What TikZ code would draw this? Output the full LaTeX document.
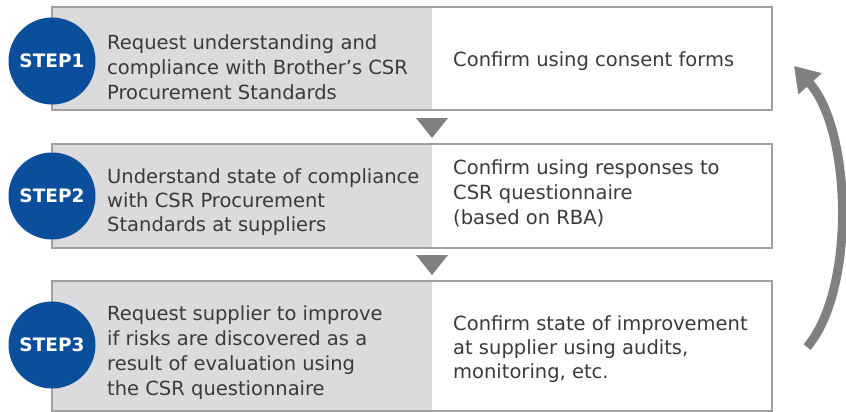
\documentclass[tikz,border=0pt]{standalone}
\usepackage{fontspec}
\setmainfont{DejaVu Sans}
\usetikzlibrary{arrows.meta}
\definecolor{boxgray}{RGB}{219,219,221}
\definecolor{edgegray}{RGB}{160,160,160}
\definecolor{stepblue}{RGB}{11,78,155}
\definecolor{txtgray}{RGB}{58,58,58}
\definecolor{arrgray}{RGB}{128,128,130}
\begin{document}
\begin{tikzpicture}[x=1pt,y=-1pt,
  leftpart/.style={fill=boxgray, draw=none, anchor=north west, inner sep=0pt, outer sep=0pt, minimum width=380pt},
  frame/.style={draw=edgegray, line width=1.4pt, anchor=north west, inner sep=0pt, outer sep=0pt, minimum width=720pt},
  stepcircle/.style={circle, fill=stepblue, text=white, minimum size=87pt, inner sep=0pt,
    font=\bfseries\fontsize{18.5}{22}\selectfont},
  lefttext/.style={anchor=west, align=left, text=txtgray, inner sep=0pt, font=\fontsize{19.5}{25}\selectfont},
  righttext/.style={anchor=west, align=left, text=txtgray, inner sep=0pt, font=\fontsize{19.5}{25}\selectfont},
  downmark/.style={fill=arrgray, draw=none},
  loop/.style={draw=arrgray, line width=9pt, -{Triangle[width=30pt,length=24pt]}}
]
\useasboundingbox (0,0) rectangle (846,412);
% box 1
\node[leftpart, minimum height=103pt] (l1) at (52,7) {};
\node[frame, minimum height=103pt] (f1) at (52,7) {};
% box 2
\node[leftpart, minimum height=104pt] (l2) at (52,144) {};
\node[frame, minimum height=104pt] (f2) at (52,144) {};
% box 3
\node[leftpart, minimum height=130pt] (l3) at (52,281) {};
\node[frame, minimum height=130pt] (f3) at (52,281) {};
% circles
\node[stepcircle] (s1) at (52,61) {STEP1};
\node[stepcircle] (s2) at (52,196) {STEP2};
\node[stepcircle] (s3) at (52,345) {STEP3};
% texts
\node[lefttext] (t1) at (107,67) {Request understanding and\\compliance with Brother’s CSR\\Procurement Standards};
\node[righttext] (u1) at (453,61) {Confirm using consent forms};
\node[lefttext, font=\fontsize{19.5}{24}\selectfont] (t2) at (107,202) {Understand state of compliance\\with CSR Procurement\\Standards at suppliers};
\node[righttext] (u2) at (453,193) {Confirm using responses to\\CSR questionnaire\\(based on RBA)};
\node[lefttext] (t3) at (107,353) {Request supplier to improve\\if risks are discovered as a\\result of evaluation using\\the CSR questionnaire};
\node[righttext, font=\fontsize{19.5}{24}\selectfont] (u3) at (453,349) {Confirm state of improvement\\at supplier using audits,\\monitoring, etc.};
% down marks
\fill[downmark] (416,118) -- (448,118) -- (432,138) -- cycle;
\fill[downmark] (416,255) -- (448,255) -- (432,275) -- cycle;
% loop arrow
\coordinate (la) at (807,347);
\coordinate (lb) at (794,66);
\draw[loop] (la) .. controls (856,290) and (852,130) .. (lb);
\end{tikzpicture}
\end{document}
